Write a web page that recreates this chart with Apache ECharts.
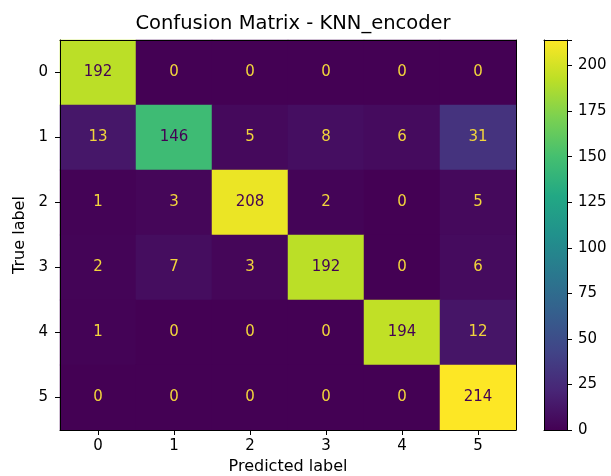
<!DOCTYPE html>
<html>
<head>
<meta charset="utf-8">
<script src="https://cdn.jsdelivr.net/npm/echarts@6/dist/echarts.min.js"></script>
<style>html,body{margin:0;padding:0;background:#fff;}#c{width:611px;height:476px;}</style>
</head>
<body>
<div id="c"></div>
<script>
const predictedLabels = ['0','1','2','3','4','5'];
const trueLabels = ['0','1','2','3','4','5'];
const row0 = [192, 0, 0, 0, 0, 0];
const row1 = [13, 146, 5, 8, 6, 31];
const row2 = [1, 3, 208, 2, 0, 5];
const row3 = [2, 7, 3, 192, 0, 6];
const row4 = [1, 0, 0, 0, 194, 12];
const row5 = [0, 0, 0, 0, 0, 214];
const matrix = [row0, row1, row2, row3, row4, row5];
const colorbarTicks = [0, 25, 50, 75, 100, 125, 150, 175, 200];

const viridis = ['#440154','#482576','#414487','#355f8d','#2a788e','#21918c','#22a884','#44bf70','#7ad151','#bddf26','#fde725'];
let vmin = Infinity, vmax = -Infinity;
matrix.forEach(r => r.forEach(v => { vmin = Math.min(vmin, v); vmax = Math.max(vmax, v); }));
const thresh = (vmin + vmax) / 2;

const heatData = [];
matrix.forEach((r, yi) => r.forEach((v, xi) => {
  heatData.push({ value: [xi, yi, v], label: { color: v > thresh ? '#440154' : '#f2d53c' } });
}));

const font = 'DejaVu Sans';
const fs = 15;
const frameLine = { show: true, onZero: false, lineStyle: { color: '#000', width: 1 } };
const frameAxis = (type, gridIndex, position, data) => ({
  type, gridIndex, position, data, z: 10,
  axisLine: frameLine, axisTick: { show: false }, axisLabel: { show: false }, splitLine: { show: false }
});
const chart = echarts.init(document.getElementById('c'), null, { renderer: 'canvas' });
chart.setOption({
  animation: false,
  backgroundColor: '#fff',
  title: {
    text: 'Confusion Matrix - KNN_encoder',
    left: 288, top: 9, textAlign: 'center',
    textStyle: { fontFamily: font, fontSize: 19.5, fontWeight: 'normal', color: '#000' }
  },
  grid: [
    { left: 60, top: 40, width: 456, height: 390, show: false, containLabel: false, outerBoundsMode: 'none' },
    { left: 544, top: 40, width: 23, height: 390, show: false, containLabel: false, outerBoundsMode: 'none' }
  ],
  xAxis: [
    {
      type: 'category', gridIndex: 0, data: predictedLabels, position: 'bottom', z: 10,
      name: 'Predicted label', nameLocation: 'middle', nameGap: 27,
      nameTextStyle: { fontFamily: font, fontSize: 16, color: '#000' },
      axisLine: frameLine, axisTick: { show: true, alignWithLabel: true, length: 5, lineStyle: { color: '#000' } },
      axisLabel: { fontFamily: font, fontSize: fs, color: '#000', margin: 9 },
      splitLine: { show: false }
    },
    { type: 'category', gridIndex: 1, data: ['cb'], position: 'bottom', z: 10,
      axisLine: frameLine, axisTick: { show: false }, axisLabel: { show: false }, splitLine: { show: false } },
    frameAxis('category', 0, 'top', predictedLabels),
    frameAxis('category', 1, 'top', ['cb'])
  ],
  yAxis: [
    {
      type: 'category', gridIndex: 0, data: trueLabels, inverse: true, z: 10,
      name: 'True label', nameLocation: 'middle', nameGap: 31, nameRotate: 90,
      nameTextStyle: { fontFamily: font, fontSize: 16, color: '#000' },
      axisLine: frameLine, axisTick: { show: true, alignWithLabel: true, length: 5, lineStyle: { color: '#000' } },
      axisLabel: { fontFamily: font, fontSize: fs, color: '#000', margin: 12 },
      splitLine: { show: false }
    },
    {
      type: 'value', gridIndex: 1, min: vmin, max: vmax, interval: 25, position: 'right', z: 10,
      axisLine: frameLine,
      axisTick: { show: true, length: 5, lineStyle: { color: '#000' } },
      axisLabel: { fontFamily: font, fontSize: fs, color: '#000', margin: 11,
        formatter: v => colorbarTicks.includes(v) ? String(v) : '' },
      splitLine: { show: false }
    },
    frameAxis('category', 0, 'right', trueLabels),
    Object.assign(frameAxis('value', 1, 'left'), { min: vmin, max: vmax })
  ],
  visualMap: {
    show: false, type: 'continuous', min: vmin, max: vmax, dimension: 2, seriesIndex: 0,
    inRange: { color: viridis }
  },
  series: [
    {
      type: 'heatmap', xAxisIndex: 0, yAxisIndex: 0, data: heatData,
      label: { show: true, fontFamily: font, fontSize: fs },
      itemStyle: { borderWidth: 0 },
      emphasis: { disabled: true }
    },
    {
      type: 'bar', xAxisIndex: 1, yAxisIndex: 1, data: [vmax], barWidth: '100%',
      itemStyle: {
        color: new echarts.graphic.LinearGradient(0, 1, 0, 0,
          viridis.map((c, i) => ({ offset: i / (viridis.length - 1), color: c })))
      },
      silent: true
    }
  ]
});
</script>
</body>
</html>
